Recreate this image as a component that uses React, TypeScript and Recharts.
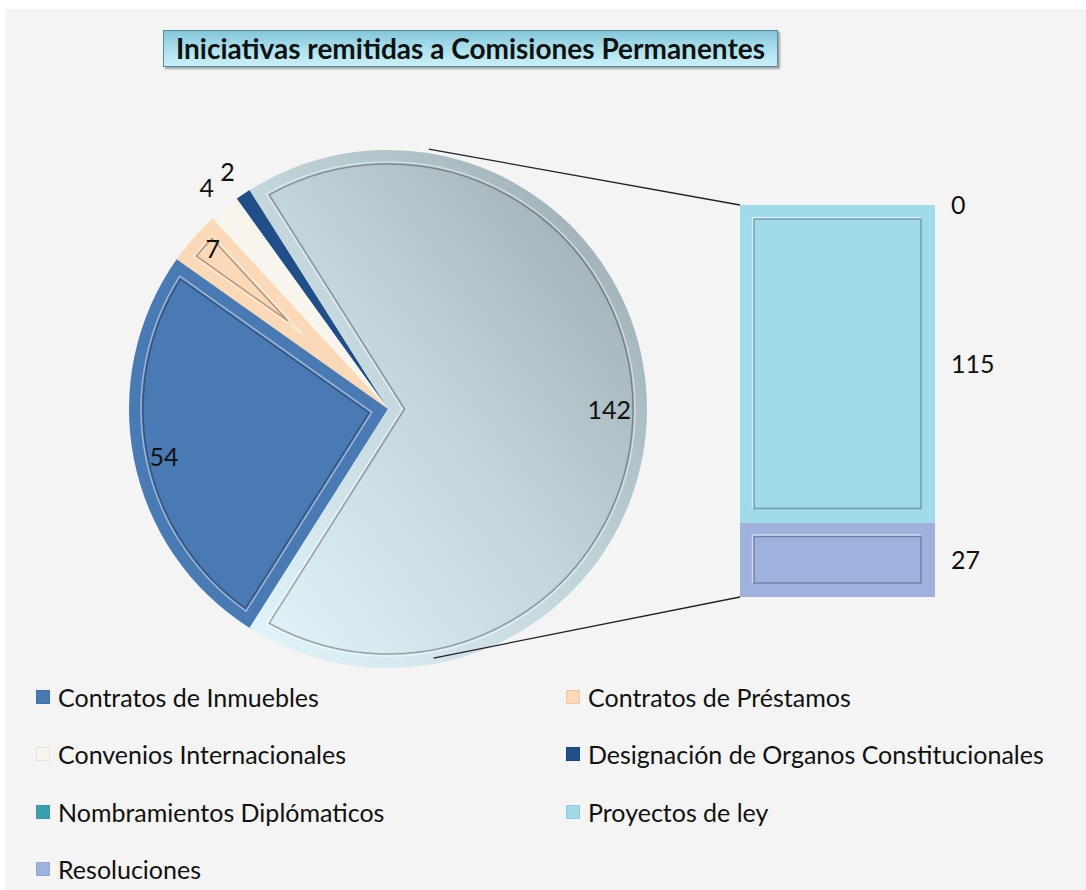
import { Bar, BarChart, Cell, LabelList, Pie, PieChart, XAxis, YAxis } from "recharts";

// pie part (the "other" slice is the sum of the bar part)
const pieCategories = [
  "Designación de Organos Constitucionales",
  "Convenios Internacionales",
  "Contratos de Préstamos",
  "Contratos de Inmuebles",
];
const pieValues = [2, 4, 7, 54];
const pieColors = ["#1f4e88", "#f8f6ec", "#fcd9b6", "#4a7ab4"];

// bar part, top to bottom
const barCategories = ["Nombramientos Diplómaticos", "Proyectos de ley", "Resoluciones"];
const barValues = [0, 115, 27];
const barColors = ["#3aa0b1", "#a0dbe9", "#9eb2dd"];

const legendOrder = [
  "Contratos de Inmuebles",
  "Contratos de Préstamos",
  "Convenios Internacionales",
  "Designación de Organos Constitucionales",
  "Nombramientos Diplómaticos",
  "Proyectos de ley",
  "Resoluciones",
];

const TITLE = "Iniciativas remitidas a Comisiones Permanentes";
const OTHER = "Otro";
const FONT = "Lato, 'Open Sans', sans-serif";

// layout
const PANEL_W = 1081;
const PANEL_H = 881;
const PIE_CX = 378;
const PIE_CY = 395;
const PIE_R = 259;
const BAR_LEFT = 735;
const BAR_TOP = 196;
const BAR_W = 195;
const BAR_H = 392;
const BAR_PAD = 24;

const otherValue = barValues.reduce((a, b) => a + b, 0);
const pieData = [
  ...pieCategories.map((name, i) => ({ name, value: pieValues[i] })),
  { name: OTHER, value: otherValue },
];
const pieTotal = pieData.reduce((a, d) => a + d.value, 0);
const startAngle = (otherValue / pieTotal) * 180;

const barRow: Record<string, string | number> = { name: OTHER };
barCategories.forEach((_, i) => {
  barRow[`b${i}`] = barValues[i];
});
const barData = [barRow];

const colorOf = (name: string) => {
  const p = pieCategories.indexOf(name);
  if (p >= 0) return pieColors[p];
  return barColors[barCategories.indexOf(name)];
};

const RAD = Math.PI / 180;
const pt = (cx: number, cy: number, r: number, a: number) => [
  cx + r * Math.cos(-a * RAD),
  cy + r * Math.sin(-a * RAD),
];

// outline of a sector shrunk inward by d, used for the bevel look
function insetPath(cx: number, cy: number, r: number, a1: number, a2: number, d: number) {
  const h = (a2 - a1) / 2;
  const m = a1 + h;
  const [ax, ay] = pt(cx, cy, d / Math.sin(h * RAD), m);
  const rr = r - d;
  const hit = (a: number) => {
    const ux = Math.cos(-a * RAD);
    const uy = Math.sin(-a * RAD);
    const px = ax - cx;
    const py = ay - cy;
    const b = px * ux + py * uy;
    const c = px * px + py * py - rr * rr;
    const s = -b + Math.sqrt(b * b - c);
    return [ax + s * ux, ay + s * uy];
  };
  const p1 = hit(a1);
  const p2 = hit(a2);
  const large = a2 - a1 > 180 ? 1 : 0;
  return `M${ax},${ay}L${p1[0]},${p1[1]}A${rr},${rr} 0 ${large} 0 ${p2[0]},${p2[1]}Z`;
}

function sliceLabel(props: any) {
  const { cx, cy, outerRadius, midAngle, value, name } = props;
  const a1 = Math.min(props.startAngle, props.endAngle);
  const a2 = Math.max(props.startAngle, props.endAngle);
  const share = value / pieTotal;
  const outside = share < 0.03;
  const [tx, ty] = pt(cx, cy, outside ? outerRadius + 28 : outerRadius - 16, midAngle);
  const anchor = outside ? "middle" : Math.cos(midAngle * RAD) >= 0 ? "end" : "start";
  return (
    <g key={`lbl-${name}`}>
      {a2 - a1 >= 10 && (
        <>
          <path
            d={insetPath(cx, cy, outerRadius, a1, a2, 12)}
            fill="none"
            stroke="rgba(255,255,255,0.45)"
            strokeWidth={1.5}
          />
          <path
            d={insetPath(cx, cy, outerRadius, a1, a2, 14)}
            fill="none"
            stroke="rgba(0,0,0,0.3)"
            strokeWidth={1.5}
          />
        </>
      )}
      <text
        x={tx}
        y={ty}
        textAnchor={anchor}
        dominantBaseline="central"
        fontFamily={FONT}
        fontSize={25}
        fill="#111"
      >
        {value}
      </text>
    </g>
  );
}

function BevelBar(props: any) {
  const { x, y, width, height, fill } = props;
  if (!height || height <= 0) return null;
  const d = 14;
  const inner = height > 2 * d + 6;
  return (
    <g>
      <rect x={x} y={y} width={width} height={height} fill={fill} />
      {inner && (
        <>
          <rect
            x={x + d}
            y={y + d}
            width={width - 2 * d}
            height={height - 2 * d}
            fill="none"
            stroke="rgba(0,0,0,0.28)"
            strokeWidth={1.5}
          />
          <path
            d={`M${x + d - 1.5},${y + height - d}V${y + d - 1.5}H${x + width - d}`}
            fill="none"
            stroke="rgba(255,255,255,0.5)"
            strokeWidth={1.5}
          />
        </>
      )}
    </g>
  );
}

// tangent point on the pie circle seen from a bar corner
function tangentFrom(px: number, py: number, upper: boolean) {
  const dx = px - PIE_CX;
  const dy = py - PIE_CY;
  const dist = Math.hypot(dx, dy);
  const theta = Math.atan2(-dy, dx) / RAD;
  const alpha = Math.acos(PIE_R / dist) / RAD;
  return pt(PIE_CX, PIE_CY, PIE_R, upper ? theta + alpha : theta - alpha);
}

export default function App() {
  const top = tangentFrom(BAR_LEFT, BAR_TOP, true);
  const bottom = tangentFrom(BAR_LEFT, BAR_TOP + BAR_H, false);

  return (
    <div
      style={{
        position: "absolute",
        left: 5,
        top: 9,
        width: PANEL_W,
        height: PANEL_H,
        background: "#f4f4f4",
        fontFamily: FONT,
        overflow: "hidden",
      }}
    >
      <div
        style={{
          position: "absolute",
          left: 158,
          top: 21,
          width: 613,
          height: 35,
          background: "linear-gradient(to bottom, #84c7d8 0%, #aee2ee 55%, #c8f0f8 100%)",
          border: "1px solid #4f8d9e",
          boxShadow: "2px 2px 2px rgba(0,0,0,0.35)",
          textAlign: "center",
          fontWeight: 700,
          fontSize: 28,
          lineHeight: "35px",
          color: "#111",
          whiteSpace: "nowrap",
        }}
      >
        {TITLE}
      </div>

      <div style={{ position: "absolute", left: 0, top: 0 }}>
        <PieChart width={PANEL_W} height={680}>
          <defs>
            <linearGradient id="otherFill" x1="0" y1="1" x2="1" y2="0">
              <stop offset="0%" stopColor="#e3f6fc" />
              <stop offset="50%" stopColor="#c0d4da" />
              <stop offset="100%" stopColor="#95a6ab" />
            </linearGradient>
          </defs>
          <Pie
            data={pieData}
            dataKey="value"
            nameKey="name"
            cx={PIE_CX}
            cy={PIE_CY}
            outerRadius={PIE_R}
            startAngle={startAngle}
            endAngle={startAngle + 360}
            isAnimationActive={false}
            labelLine={false}
            label={sliceLabel}
          >
            {pieData.map((d) => (
              <Cell
                key={d.name}
                fill={d.name === OTHER ? "url(#otherFill)" : colorOf(d.name)}
                stroke="none"
              />
            ))}
          </Pie>
        </PieChart>
      </div>

      <div style={{ position: "absolute", left: BAR_LEFT, top: BAR_TOP - BAR_PAD }}>
        <BarChart
          width={BAR_W + 110}
          height={BAR_H + 2 * BAR_PAD}
          data={barData}
          margin={{ top: BAR_PAD, right: 110, bottom: BAR_PAD, left: 0 }}
          barCategoryGap={0}
        >
          <XAxis dataKey="name" type="category" hide />
          <YAxis type="number" domain={[0, otherValue]} hide />
          {barCategories
            .map((name, i) => ({ name, i }))
            .reverse()
            .map(({ name, i }) => (
              <Bar
                key={name}
                dataKey={`b${i}`}
                name={name}
                stackId="s"
                fill={barColors[i]}
                shape={<BevelBar />}
                isAnimationActive={false}
              >
                <LabelList
                  dataKey={`b${i}`}
                  position="right"
                  offset={16}
                  fontFamily={FONT}
                  fontSize={25}
                  fill="#111"
                />
              </Bar>
            ))}
        </BarChart>
      </div>

      <svg
        width={PANEL_W}
        height={PANEL_H}
        style={{ position: "absolute", left: 0, top: 0, pointerEvents: "none" }}
      >
        <line x1={top[0]} y1={top[1]} x2={BAR_LEFT} y2={BAR_TOP} stroke="#222" strokeWidth={1.3} />
        <line
          x1={bottom[0]}
          y1={bottom[1]}
          x2={BAR_LEFT}
          y2={BAR_TOP + BAR_H}
          stroke="#222"
          strokeWidth={1.3}
        />
      </svg>

      {legendOrder.map((name, i) => (
        <div
          key={name}
          style={{
            position: "absolute",
            left: i % 2 === 0 ? 31 : 561,
            top: 688 + Math.floor(i / 2) * 57.3 - 15,
            height: 30,
            display: "flex",
            alignItems: "center",
            fontSize: 25,
            color: "#111",
            whiteSpace: "nowrap",
          }}
        >
          <span
            style={{
              display: "inline-block",
              width: 14,
              height: 14,
              marginRight: 8,
              background: colorOf(name),
              boxShadow: "inset 0 0 0 1px rgba(0,0,0,0.08)",
            }}
          />
          {name}
        </div>
      ))}
    </div>
  );
}
